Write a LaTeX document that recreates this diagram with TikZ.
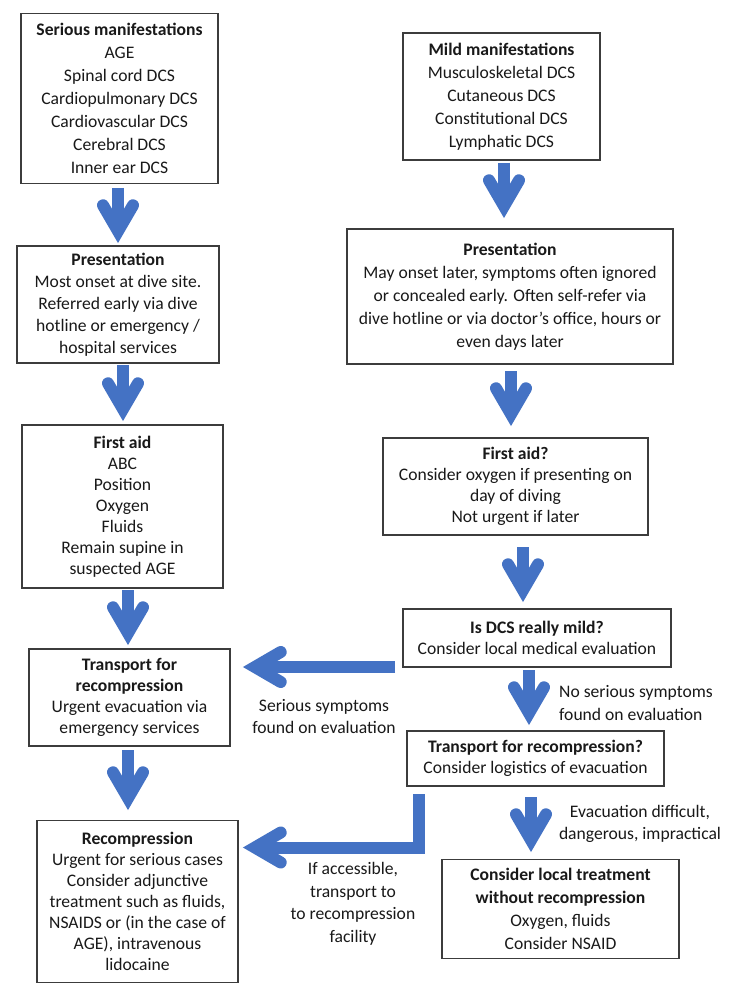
\documentclass[tikz,border=0pt]{standalone}
\usepackage{fontspec}
\setmainfont{Carlito}
\usetikzlibrary{calc}
\definecolor{arrowblue}{RGB}{68,114,196}
\definecolor{boxline}{RGB}{60,60,60}
\definecolor{txt}{RGB}{25,25,25}
\pgfdeclarearrow{
  name = Chev,
  setup code = {
    \pgfarrowssettipend{0pt}
    \pgfarrowssetlineend{-12pt}
    \pgfarrowssetbackend{-44pt}
    \pgfarrowshullpoint{0pt}{0pt}
    \pgfarrowsupperhullpoint{-44pt}{21pt}
  },
  drawing code = {
    \pgfsetlinewidth{12pt}
    \pgfsetroundcap
    \pgfsetmiterjoin
    \pgfpathmoveto{\pgfqpoint{-37.7pt}{15pt}}
    \pgfpathlineto{\pgfqpoint{-11.9pt}{0pt}}
    \pgfpathlineto{\pgfqpoint{-37.7pt}{-15pt}}
    \pgfusepathqstroke
  },
}
\tikzset{
  box/.style={draw=boxline, line width=1.3pt, inner sep=0pt, align=center,
    text=txt, font=\fontsize{17.6}{22}\selectfont},
  wide/.style={font=\fontsize{17.6}{23}\selectfont},
  tight/.style={font=\fontsize{17.6}{21}\selectfont},
  lbl/.style={inner sep=0pt, text=txt, font=\fontsize{17.6}{22.5}\selectfont},
  flow/.style={draw=arrowblue, line width=12pt, line cap=butt, line join=miter, -Chev},
}
\begin{document}
\begin{tikzpicture}[x=1pt, y=-1pt]
\useasboundingbox[fill=white] (0,0) rectangle (734,1000);
% boxes
\node[box, wide, minimum width=197pt, minimum height=170pt] (A) at (119.5,98.5)
  {\textbf{Serious manifestations}\\AGE\\Spinal cord DCS\\Cardiopulmonary DCS\\Cardiovascular DCS\\Cerebral DCS\\Inner ear DCS};
\node[box, wide, minimum width=197pt, minimum height=127pt] (B) at (501.5,96.5)
  {\textbf{Mild manifestations}\\Musculoskeletal DCS\\Cutaneous DCS\\Constitutional DCS\\Lymphatic DCS};
\node[box, minimum width=202pt, minimum height=117pt] (C) at (118,304.5)
  {\textbf{Presentation}\\Most onset at dive site.\\Referred early via dive\\hotline or emergency /\\hospital services};
\node[box, wide, minimum width=326pt, minimum height=135pt] (D) at (510,296.5)
  {\textbf{Presentation}\\May onset later, symptoms often ignored\\or concealed early. Often self-refer via\\dive hotline or via doctor’s office, hours or\\even days later};
\node[box, tight, minimum width=201pt, minimum height=163pt] (E) at (122.5,506.5)
  {\textbf{First aid}\\ABC\\Position\\Oxygen\\Fluids\\Remain supine in\\suspected AGE};
\node[box, tight, minimum width=265pt, minimum height=97pt] (F) at (515.5,486.5)
  {\textbf{First aid?}\\Consider oxygen if presenting on\\day of diving\\Not urgent if later};
\node[box, tight, minimum width=268pt, minimum height=58pt] (G) at (537,638)
  {\textbf{Is DCS really mild?}\\Consider local medical evaluation};
\node[box, tight, minimum width=201pt, minimum height=97pt] (H) at (129.5,697.5)
  {\textbf{Transport for}\\\textbf{recompression}\\Urgent evacuation via\\emergency services};
\node[box, font=\fontsize{17.6}{20.5}\selectfont, minimum width=257pt, minimum height=55pt] (I) at (535.5,758.5)
  {\textbf{Transport for recompression?}\\Consider logistics of evacuation};
\node[box, tight, minimum width=201pt, minimum height=162pt] (J) at (137.5,901.5)
  {\textbf{Recompression}\\Urgent for serious cases\\Consider adjunctive\\treatment such as fluids,\\NSAIDS or (in the case of\\AGE), intravenous\\lidocaine};
\node[box, wide, minimum width=237pt, minimum height=99pt] (K) at (560.5,909)
  {\textbf{Consider local treatment}\\\textbf{without recompression}\\Oxygen, fluids\\Consider NSAID};
% labels
\node[lbl, align=center] (L1) at (324,716.5) {Serious symptoms\\found on evaluation};
\node[lbl, align=left, anchor=west] (L2) at (559,703) {No serious symptoms\\found on evaluation};
\node[lbl, align=center] (L3) at (640,824) {Evacuation difficult,\\dangerous, impractical};
\node[lbl, align=center] (L4) at (353,904) {If accessible,\\transport to\\to recompression\\facility};
% arrow end points
\coordinate (a1s) at (118,188);  \coordinate (a1e) at (118,243);
\coordinate (a2s) at (123,365);  \coordinate (a2e) at (123,421);
\coordinate (a3s) at (128,590);  \coordinate (a3e) at (128,645);
\coordinate (a4s) at (128,750);  \coordinate (a4e) at (128,810);
\coordinate (b1s) at (504,163);  \coordinate (b1e) at (504,218);
\coordinate (b2s) at (511,371);  \coordinate (b2e) at (511,426);
\coordinate (b3s) at (523,547);  \coordinate (b3e) at (523,602);
\coordinate (b4s) at (529,670);  \coordinate (b4e) at (529,725);
\coordinate (b5s) at (531,797);  \coordinate (b5e) at (531,852);
\coordinate (h1s) at (395,667);  \coordinate (h1e) at (243,667);
\coordinate (h2s) at (419,794);  \coordinate (h2c) at (419,847.5); \coordinate (h2e) at (243,847.5);
% arrows
\draw[flow] (a1s) -- (a1e);
\draw[flow] (a2s) -- (a2e);
\draw[flow] (a3s) -- (a3e);
\draw[flow] (a4s) -- (a4e);
\draw[flow] (b1s) -- (b1e);
\draw[flow] (b2s) -- (b2e);
\draw[flow] (b3s) -- (b3e);
\draw[flow] (b4s) -- (b4e);
\draw[flow] (b5s) -- (b5e);
\draw[flow] (h1s) -- (h1e);
\draw[flow] (h2s) -- (h2c) -- (h2e);
\end{tikzpicture}
\end{document}
